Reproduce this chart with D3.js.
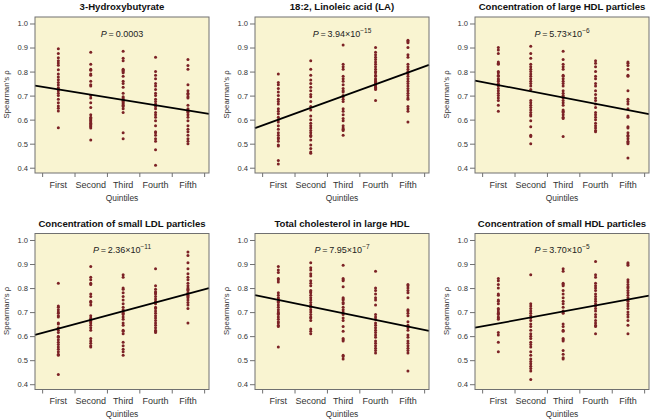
<!DOCTYPE html>
<html>
<head>
<meta charset="utf-8">
<script src="https://cdn.jsdelivr.net/npm/d3@7"></script>
<style>
  html, body { margin: 0; padding: 0; background: #ffffff; }
  svg { display: block; font-family: "Liberation Sans", Arial, sans-serif; }
</style>
</head>
<body>
<svg id="chart" width="658" height="419"></svg>
<script>
// ---------- data ----------
const quintiles = ["First", "Second", "Third", "Fourth", "Fifth"];
const yTicks = [0.4, 0.5, 0.6, 0.7, 0.8, 0.9, 1.0];
const titles = [
  "3-Hydroxybutyrate",
  "18:2, Linoleic acid (LA)",
  "Concentration of large HDL particles",
  "Concentration of small LDL particles",
  "Total cholesterol in large HDL",
  "Concentration of small HDL particles"
];
// P-values: [mantissa text, exponent text or null]
const pValues = [
  ["0.0003", null],
  ["3.94", "\u221215"],
  ["5.73", "\u22126"],
  ["2.36", "\u221211"],
  ["7.95", "\u22127"],
  ["3.70", "\u22125"]
];
// regression lines: [intercept at quintile 0, slope per quintile]
const fits = [
  [0.748, -0.0220],
  [0.551, 0.0490],
  [0.770, -0.0261],
  [0.595, 0.0363],
  [0.778, -0.0276],
  [0.628, 0.0248]
];

const hydroxybutyrate = [
  [0.895,0.875,0.857,0.845,0.836,0.826,0.808,0.79,0.777,0.766,0.755,0.744,0.733,0.727,0.72,0.71,0.70,0.685,0.67,0.657,0.647,0.636,0.566],
  [0.88,0.83,0.81,0.805,0.79,0.785,0.76,0.745,0.74,0.70,0.69,0.67,0.65,0.62,0.61,0.605,0.60,0.595,0.59,0.585,0.58,0.575,0.57,0.565,0.515],
  [0.885,0.855,0.845,0.81,0.805,0.80,0.795,0.78,0.76,0.75,0.735,0.71,0.695,0.69,0.685,0.68,0.675,0.67,0.665,0.66,0.655,0.645,0.63,0.545,0.52],
  [0.86,0.80,0.785,0.77,0.75,0.74,0.725,0.71,0.70,0.685,0.675,0.665,0.655,0.645,0.63,0.62,0.61,0.595,0.575,0.55,0.545,0.535,0.52,0.51,0.475,0.41],
  [0.85,0.825,0.81,0.745,0.72,0.71,0.705,0.695,0.69,0.66,0.645,0.64,0.635,0.63,0.62,0.61,0.595,0.575,0.56,0.55,0.535,0.52,0.51,0.50]
];
const linoleicAcid = [
  [0.79,0.755,0.745,0.73,0.715,0.70,0.685,0.675,0.665,0.645,0.635,0.625,0.61,0.60,0.59,0.575,0.56,0.545,0.535,0.525,0.52,0.51,0.495,0.49,0.43,0.415],
  [0.845,0.81,0.785,0.765,0.75,0.735,0.72,0.705,0.695,0.675,0.655,0.64,0.615,0.60,0.585,0.575,0.565,0.555,0.545,0.535,0.53,0.515,0.495,0.48,0.465,0.46],
  [0.91,0.83,0.82,0.81,0.78,0.77,0.76,0.745,0.73,0.72,0.715,0.70,0.695,0.685,0.675,0.645,0.635,0.62,0.605,0.595,0.575,0.565,0.56,0.555,0.535],
  [0.90,0.88,0.87,0.86,0.85,0.84,0.83,0.82,0.81,0.80,0.795,0.785,0.78,0.77,0.765,0.76,0.755,0.75,0.745,0.74,0.735,0.73,0.725,0.68],
  [0.93,0.925,0.92,0.90,0.87,0.86,0.83,0.82,0.81,0.80,0.79,0.78,0.77,0.76,0.75,0.74,0.73,0.72,0.71,0.70,0.69,0.685,0.655,0.645,0.635,0.59]
];
const largeHdlParticles = [
  [0.90,0.89,0.875,0.84,0.835,0.83,0.80,0.795,0.785,0.78,0.77,0.765,0.76,0.75,0.745,0.74,0.73,0.72,0.71,0.70,0.69,0.68,0.66,0.635],
  [0.905,0.875,0.855,0.83,0.82,0.81,0.80,0.79,0.78,0.77,0.76,0.75,0.74,0.725,0.68,0.67,0.66,0.65,0.64,0.63,0.62,0.615,0.595,0.57,0.535,0.53,0.50],
  [0.885,0.85,0.83,0.82,0.81,0.785,0.78,0.77,0.76,0.75,0.74,0.72,0.71,0.70,0.695,0.69,0.68,0.67,0.66,0.64,0.635,0.63,0.62,0.61,0.605,0.53],
  [0.845,0.835,0.82,0.80,0.78,0.77,0.75,0.74,0.72,0.705,0.69,0.68,0.665,0.65,0.63,0.62,0.61,0.60,0.585,0.575,0.565,0.555,0.55],
  [0.84,0.835,0.825,0.81,0.785,0.78,0.72,0.685,0.675,0.665,0.645,0.615,0.61,0.57,0.565,0.545,0.535,0.53,0.52,0.51,0.505,0.50,0.44]
];
const smallLdlParticles = [
  [0.82,0.725,0.72,0.71,0.70,0.695,0.685,0.68,0.655,0.65,0.635,0.625,0.615,0.60,0.595,0.585,0.575,0.565,0.555,0.545,0.535,0.525,0.52,0.44],
  [0.89,0.845,0.835,0.82,0.815,0.775,0.765,0.745,0.74,0.73,0.685,0.675,0.67,0.665,0.66,0.655,0.645,0.635,0.625,0.59,0.58,0.57,0.56,0.555],
  [0.855,0.845,0.80,0.795,0.78,0.765,0.75,0.735,0.72,0.71,0.70,0.695,0.69,0.68,0.67,0.655,0.645,0.625,0.62,0.61,0.575,0.56,0.545,0.535,0.52],
  [0.88,0.81,0.795,0.785,0.78,0.775,0.765,0.755,0.745,0.735,0.72,0.715,0.705,0.695,0.685,0.675,0.665,0.655,0.645,0.635,0.625,0.62,0.615],
  [0.95,0.935,0.905,0.88,0.86,0.845,0.835,0.82,0.81,0.80,0.795,0.79,0.78,0.775,0.77,0.765,0.76,0.75,0.74,0.73,0.715,0.655]
];
const cholesterolLargeHdl = [
  [0.89,0.875,0.865,0.84,0.835,0.825,0.78,0.77,0.76,0.755,0.745,0.74,0.73,0.72,0.71,0.70,0.695,0.69,0.68,0.67,0.66,0.655,0.645,0.64,0.555],
  [0.905,0.885,0.875,0.86,0.85,0.83,0.82,0.81,0.79,0.785,0.78,0.77,0.76,0.75,0.74,0.73,0.72,0.71,0.70,0.69,0.68,0.675,0.665,0.63,0.62,0.61],
  [0.895,0.84,0.835,0.83,0.805,0.76,0.755,0.75,0.74,0.735,0.72,0.71,0.70,0.69,0.675,0.665,0.64,0.62,0.59,0.585,0.58,0.52,0.515,0.505],
  [0.87,0.80,0.79,0.775,0.76,0.75,0.73,0.69,0.68,0.67,0.655,0.645,0.635,0.625,0.615,0.605,0.595,0.58,0.57,0.56,0.55,0.54,0.53],
  [0.815,0.81,0.80,0.79,0.78,0.76,0.71,0.705,0.695,0.685,0.66,0.645,0.635,0.625,0.605,0.595,0.58,0.57,0.56,0.55,0.54,0.53,0.455]
];
const smallHdlParticles = [
  [0.84,0.83,0.815,0.80,0.775,0.77,0.75,0.745,0.735,0.715,0.71,0.70,0.695,0.69,0.68,0.675,0.67,0.615,0.605,0.575,0.535],
  [0.855,0.735,0.725,0.715,0.705,0.695,0.685,0.675,0.665,0.65,0.64,0.625,0.61,0.60,0.59,0.575,0.565,0.555,0.535,0.52,0.505,0.495,0.485,0.475,0.465,0.455,0.42],
  [0.88,0.87,0.82,0.815,0.81,0.79,0.775,0.76,0.745,0.735,0.72,0.705,0.70,0.695,0.65,0.64,0.625,0.62,0.59,0.585,0.58,0.54,0.525,0.51,0.505],
  [0.91,0.855,0.845,0.82,0.81,0.80,0.79,0.775,0.765,0.755,0.745,0.735,0.725,0.715,0.705,0.69,0.68,0.665,0.655,0.645,0.64,0.61],
  [0.905,0.90,0.895,0.835,0.825,0.815,0.805,0.80,0.79,0.78,0.77,0.76,0.75,0.745,0.735,0.725,0.715,0.70,0.69,0.68,0.665,0.645,0.61]
];
const panelData = [hydroxybutyrate, linoleicAcid, largeHdlParticles, smallLdlParticles, cholesterolLargeHdl, smallHdlParticles];

// ---------- layout ----------
const svg = d3.select("#chart");
const colLeft = [35, 255, 475];
const rowTop = [17, 233.5];
const plotW = 174, plotH = 156;
const bg = "#f9f4d1", dotColor = "#7c2226", frameColor = "#707070", textColor = "#333333";

panelData.forEach((groups, i) => {
  const col = i % 3, row = Math.floor(i / 3);
  const g = svg.append("g").attr("transform", `translate(${colLeft[col]},${rowTop[row]})`);

  const x = d3.scaleLinear().domain([0.28, 5.65]).range([0, plotW]);
  const y = d3.scaleLinear().domain([0.378, 1.027]).range([plotH, 0]);

  // background
  g.append("rect").attr("width", plotW).attr("height", plotH).attr("fill", bg);

  // points
  const pts = [];
  groups.forEach((vals, q) => vals.forEach(v => pts.push([q + 1, v])));
  g.append("g").selectAll("circle").data(pts).join("circle")
    .attr("cx", d => x(d[0])).attr("cy", d => y(d[1]))
    .attr("r", 1.5).attr("fill", dotColor);

  // regression line
  const [a, b] = fits[i];
  const xd = x.domain();
  g.append("line")
    .attr("x1", x(xd[0])).attr("y1", y(a + b * xd[0]))
    .attr("x2", x(xd[1])).attr("y2", y(a + b * xd[1]))
    .attr("stroke", "#000").attr("stroke-width", 1.8);

  // frame
  g.append("rect").attr("width", plotW).attr("height", plotH)
    .attr("fill", "none").attr("stroke", frameColor).attr("stroke-width", 1);

  // y axis
  const yAx = g.append("g").call(d3.axisLeft(y).tickValues(yTicks).tickFormat(d3.format(".1f")).tickSize(5).tickPadding(2));
  yAx.select(".domain").remove();
  yAx.selectAll("line").attr("stroke", frameColor);
  yAx.selectAll("text").style("fill", textColor).style("font-size", "7.6px")
    .style("font-family", "'Liberation Sans', Arial, sans-serif");

  // x axis: ticks at category boundaries, labels at centers
  const xAx = g.append("g").attr("transform", `translate(0,${plotH})`)
    .call(d3.axisBottom(x).tickValues([0.5, 1.5, 2.5, 3.5, 4.5, 5.5]).tickFormat("").tickSize(4));
  xAx.select(".domain").remove();
  xAx.selectAll("line").attr("stroke", frameColor);
  g.append("g").selectAll("text").data(quintiles).join("text")
    .attr("x", (d, k) => x(k + 1)).attr("y", plotH + 14.8)
    .attr("text-anchor", "middle").style("fill", textColor)
    .style("font-size", "9px").text(d => d);

  // axis titles
  g.append("text").attr("x", plotW / 2).attr("y", plotH + 27.8)
    .attr("text-anchor", "middle").style("fill", textColor)
    .style("font-size", "8.4px").text("Quintiles");
  g.append("text")
    .attr("transform", `translate(-26.5,${y(0.705)}) rotate(-90)`)
    .attr("text-anchor", "middle").style("fill", textColor)
    .style("font-size", "7.8px").text("Spearman\u2019s \u03c1");

  // panel title
  g.append("text").attr("x", plotW / 2).attr("y", -7)
    .attr("text-anchor", "middle").style("fill", "#111111")
    .style("font-size", "9.6px").style("font-weight", "bold").text(titles[i]);

  // P value
  const pt = g.append("text").attr("x", plotW / 2).attr("y", 19.5)
    .attr("text-anchor", "middle").style("fill", "#222222").style("font-size", "9px");
  pt.append("tspan").style("font-style", "italic").text("P");
  const [mant, ex] = pValues[i];
  pt.append("tspan").text("\u2009=\u2009" + mant + (ex ? "\u00d710" : ""));
  if (ex) {
    pt.append("tspan").attr("dy", -4).style("font-size", "6.5px").text(ex);
  }
});
</script>
</body>
</html>
